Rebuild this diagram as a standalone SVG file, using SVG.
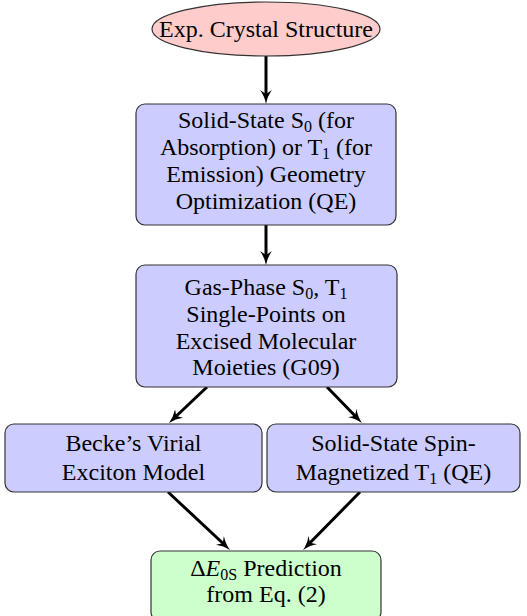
<svg xmlns="http://www.w3.org/2000/svg" width="527" height="616" viewBox="0 0 527 616">
<style>
.t{font-family:"Liberation Serif","Times New Roman",serif;font-size:24px;fill:#000;text-anchor:middle}
.sub{font-size:16px}
.box{stroke:#333;stroke-width:1.2}
.blue{fill:#ccccff}
.pink{fill:#ffcccc}
.green{fill:#ccffcc}
.conn{fill:none;stroke:#000;stroke-width:3}
</style>
<rect width="527" height="616" fill="#fff"/>
<defs>
<marker id="ah" viewBox="0 0 14 12" markerWidth="14" markerHeight="12" markerUnits="userSpaceOnUse" refX="6" refY="6" orient="auto">
<path d="M0,0 Q6,4.5 14,6 Q6,7.5 0,12 L4,6 Z" fill="#000"/>
</marker>
</defs>
<g id="connectors">
<path class="conn" d="M266,56 L266,96" marker-end="url(#ah)"/>
<path class="conn" d="M266,225 L266,257" marker-end="url(#ah)"/>
<path class="conn" d="M207,387 L174.8,417.5" marker-end="url(#ah)"/>
<path class="conn" d="M327,387 L356.4,417.3" marker-end="url(#ah)"/>
<path class="conn" d="M168,492 L224.2,544.5" marker-end="url(#ah)"/>
<path class="conn" d="M360,492 L308.6,544.3" marker-end="url(#ah)"/>
</g>
<g id="n-crystal">
<ellipse class="box pink" cx="266" cy="29" rx="114" ry="27"/>
<text class="t" x="266" y="37">Exp. Crystal Structure</text>
</g>
<g id="n-solid">
<rect class="box blue" x="136" y="104" width="260" height="121" rx="9"/>
<text class="t" x="266" y="128">Solid-State S<tspan class="sub" dy="4">0</tspan><tspan dy="-4"> (for</tspan></text>
<text class="t" x="266" y="155">Absorption) or T<tspan class="sub" dy="4">1</tspan><tspan dy="-4"> (for</tspan></text>
<text class="t" x="266" y="182">Emission) Geometry</text>
<text class="t" x="266" y="209">Optimization (QE)</text>
</g>
<g id="n-gas">
<rect class="box blue" x="136" y="265" width="261" height="122" rx="9"/>
<text class="t" x="266" y="295">Gas-Phase S<tspan class="sub" dy="4">0</tspan><tspan dy="-4">, T</tspan><tspan class="sub" dy="4">1</tspan></text>
<text class="t" x="266" y="322">Single-Points on</text>
<text class="t" x="266" y="349">Excised Molecular</text>
<text class="t" x="266" y="375">Moieties (G09)</text>
</g>
<g id="n-becke">
<rect class="box blue" x="5" y="424" width="257" height="68" rx="9"/>
<text class="t" x="133.5" y="451">Becke&#8217;s Virial</text>
<text class="t" x="133.5" y="480">Exciton Model</text>
</g>
<g id="n-spin">
<rect class="box blue" x="267" y="424" width="253" height="68" rx="9"/>
<text class="t" x="393.5" y="451">Solid-State Spin-</text>
<text class="t" x="393.5" y="480">Magnetized T<tspan class="sub" dy="4">1</tspan><tspan dy="-4"> (QE)</tspan></text>
</g>
<g id="n-pred">
<rect class="box green" x="151" y="551" width="230" height="70" rx="9"/>
<text class="t" x="266" y="576">&#916;<tspan font-style="italic">E</tspan><tspan class="sub" dy="4">0S</tspan><tspan dy="-4"> Prediction</tspan></text>
<text class="t" x="266" y="602">from Eq. (2)</text>
</g>
</svg>
